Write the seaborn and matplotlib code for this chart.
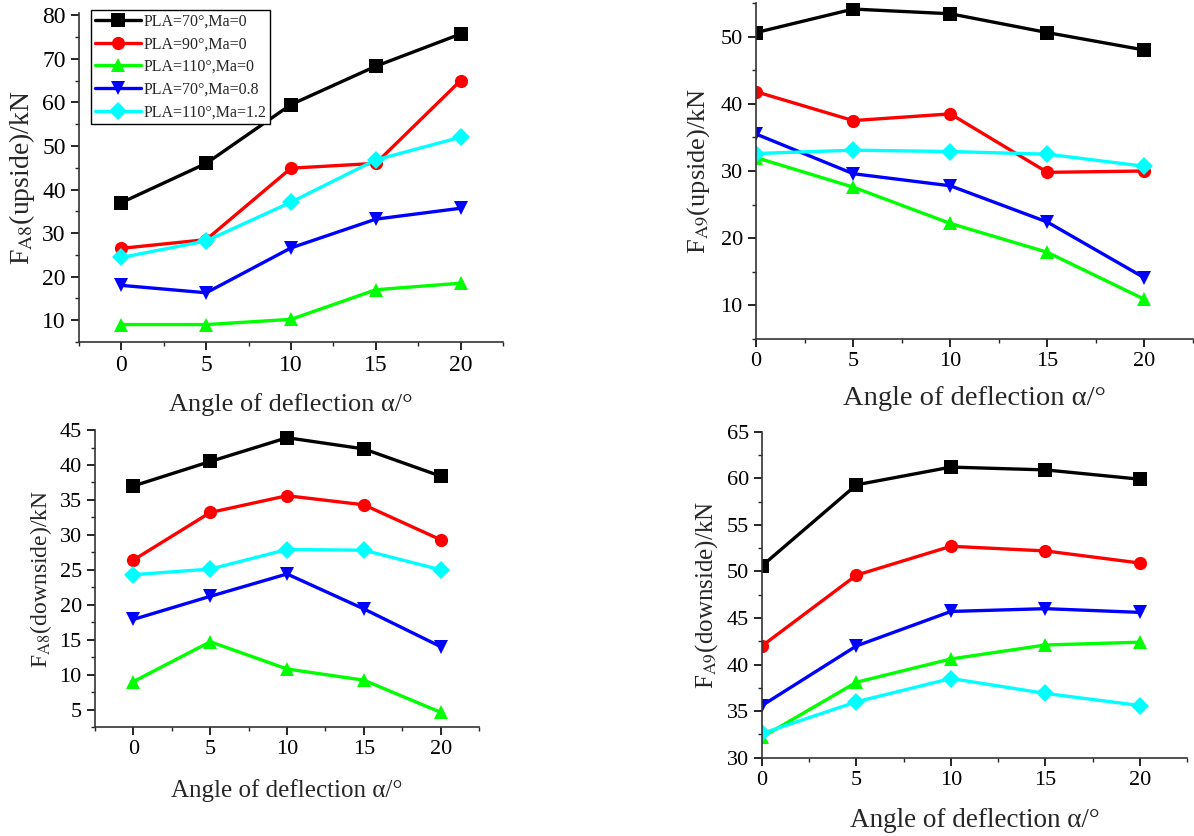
import matplotlib
matplotlib.use("Agg")
import matplotlib.pyplot as plt
import seaborn as sns
import pandas as pd
from matplotlib.ticker import MultipleLocator, AutoMinorLocator

sns.set_style("ticks")
plt.rcParams['font.family'] = ['Liberation Serif', 'DejaVu Serif']
plt.rcParams['mathtext.fontset'] = 'stix'

angles = [0, 5, 10, 15, 20]
series_names = ["PLA=70°,Ma=0", "PLA=90°,Ma=0", "PLA=110°,Ma=0",
                "PLA=70°,Ma=0.8", "PLA=110°,Ma=1.2"]
colors = ["#000000", "#FF0000", "#00FF00", "#0000FF", "#00FFFF"]
markers = ["s", "o", "^", "v", "D"]

# FA8 upside
a8_up = [
    [37.0, 46.0, 59.5, 68.3, 75.7],
    [26.5, 28.5, 44.9, 46.0, 65.0],
    [9.0, 9.0, 10.2, 17.0, 18.5],
    [18.0, 16.3, 26.6, 33.2, 35.7],
    [24.4, 28.2, 37.1, 46.8, 52.0],
]
# FA9 upside
a9_up = [
    [50.6, 54.1, 53.4, 50.6, 48.0],
    [41.8, 37.5, 38.5, 29.8, 30.0],
    [32.0, 27.6, 22.2, 17.9, 10.9],
    [35.5, 29.6, 27.8, 22.4, 14.1],
    [32.6, 33.1, 32.9, 32.5, 30.7],
]
# FA8 downside
a8_down = [
    [37.0, 40.5, 43.9, 42.3, 38.4],
    [26.4, 33.2, 35.6, 34.3, 29.3],
    [9.0, 14.7, 10.8, 9.2, 4.6],
    [17.9, 21.2, 24.4, 19.4, 14.0],
    [24.3, 25.1, 27.9, 27.8, 25.0],
]
# FA9 downside
a9_down = [
    [50.6, 59.3, 61.2, 60.9, 59.9],
    [42.0, 49.6, 52.7, 52.2, 50.9],
    [32.2, 38.1, 40.6, 42.1, 42.4],
    [35.6, 42.0, 45.7, 46.0, 45.6],
    [32.6, 36.0, 38.5, 36.9, 35.6],
]

ylabels = [r"F$_{\mathrm{A8}}$(upside)/kN", r"F$_{\mathrm{A9}}$(upside)/kN",
           r"F$_{\mathrm{A8}}$(downside)/kN", r"F$_{\mathrm{A9}}$(downside)/kN"]
xlabel = "Angle of deflection α/°"


def to_df(values):
    rows = []
    for name, vals in zip(series_names, values):
        for a, v in zip(angles, vals):
            rows.append({"angle": a, "force": v, "series": name})
    return pd.DataFrame(rows)


fig = plt.figure(figsize=(11.94, 8.36), dpi=100)
rects = [
    [0.0662, 0.5909, 0.3551, 0.3935],
    [0.6332, 0.5945, 0.3660, 0.4019],
    [0.0796, 0.1304, 0.3216, 0.3552],
    [0.6382, 0.0937, 0.3560, 0.3899],
]
datasets = [a8_up, a9_up, a8_down, a9_down]
xlims = [(-2.5, 22.5), (0, 22.5), (-2.5, 22.5), (0, 22.5)]
ylims = [(5, 80.5), (5, 55), (2.5, 45), (30, 65)]
ymajor = [10, 10, 5, 5]
ylabelpads = [4, 6, 4, 5]
xlabelpads = [12, 11, 14, 13]
ticksizes = [17, 16, 16, 16]
xlabelsizes = [19, 20.5, 18, 19.5]
ylabelsizes = [20, 19, 17, 18]

palette = dict(zip(series_names, colors))
mk = dict(zip(series_names, markers))

for i in range(4):
    ax = fig.add_axes(rects[i])
    df = to_df(datasets[i])
    sns.lineplot(data=df, x="angle", y="force", hue="series", style="series",
                 palette=palette, markers=mk, dashes=False, ax=ax,
                 linewidth=2.4, markersize=9.5, markeredgewidth=0,
                 legend=(i == 0))
    ax.set_xlim(*xlims[i])
    ax.set_ylim(*ylims[i])
    ax.xaxis.set_major_locator(MultipleLocator(5))
    ax.xaxis.set_minor_locator(AutoMinorLocator(2))
    ax.yaxis.set_major_locator(MultipleLocator(ymajor[i]))
    ax.yaxis.set_minor_locator(AutoMinorLocator(2))
    ax.tick_params(which='major', direction='out', length=6, width=1.2,
                   labelsize=ticksizes[i], colors='black')
    ax.tick_params(which='minor', direction='out', length=3, width=1.0)
    for s in ['top', 'right']:
        ax.spines[s].set_visible(False)
    for s in ['left', 'bottom']:
        ax.spines[s].set_linewidth(1.2)
        ax.spines[s].set_color('#333333')
    ax.set_xlabel(xlabel, fontsize=xlabelsizes[i], labelpad=xlabelpads[i])
    ax.set_ylabel(ylabels[i], fontsize=ylabelsizes[i], labelpad=ylabelpads[i])
    if i == 0:
        leg = ax.legend(loc='upper left', bbox_to_anchor=(0.02, 1.02),
                        fontsize=11.5, frameon=True, fancybox=False,
                        handlelength=2.9, borderpad=0.25, labelspacing=0.42,
                        handletextpad=0.15, borderaxespad=0.2)
        leg.get_frame().set_edgecolor('black')
        leg.get_frame().set_linewidth(1.0)
        leg.get_frame().set_alpha(1)
        for h in leg.legend_handles:
            h.set_linewidth(2.4)

fig.savefig("out.png", dpi=100, facecolor='white')
